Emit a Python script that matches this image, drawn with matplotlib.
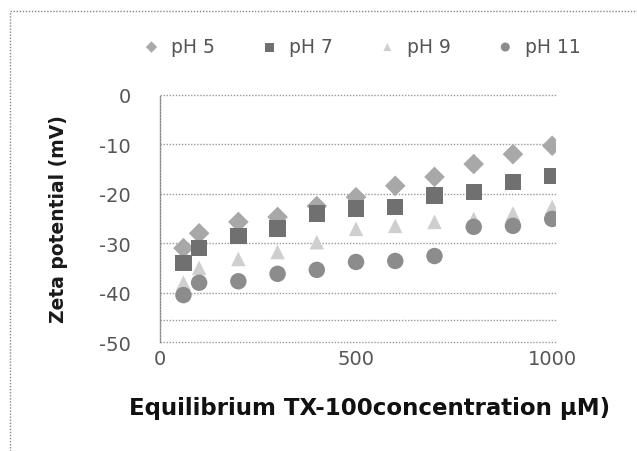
import matplotlib
matplotlib.use('Agg')
import matplotlib.pyplot as plt
from matplotlib.lines import Line2D

conc = [60, 100, 200, 300, 400, 500, 600, 700, 800, 900, 1000]
ph5 = [-31, -28, -25.7, -24.7, -22.5, -20.7, -18.4, -16.6, -14.0, -12.0, -10.3]
ph7 = [-34, -31, -28.5, -27.0, -24.0, -23.0, -22.7, -20.4, -19.6, -17.6, -16.4]
ph9 = [-38, -35, -33.2, -31.8, -29.8, -27.1, -26.5, -25.7, -25.1, -24.0, -22.7]
ph11 = [-40.5, -38, -37.7, -36.2, -35.4, -33.8, -33.6, -32.6, -26.7, -26.5, -25.1]
labels = ['pH 5', 'pH 7', 'pH 9', 'pH 11']
y_ticks = [0, -10, -20, -30, -40, -50]
x_ticks = [0, 500, 1000]

fig = plt.figure(figsize=(6.37, 4.52), dpi=100)
ax = fig.add_axes([0.251, 0.241, 0.622, 0.547])

styles = [('D', '#a8a8a8', 110), ('s', '#707070', 140), ('^', '#cfcfcf', 110), ('o', '#8c8c8c', 140)]
for ys, lab, (m, c, s) in zip([ph5, ph7, ph9, ph11], labels, styles):
    ax.scatter(conc, ys, marker=m, color=c, s=s, label=lab, edgecolors='none', zorder=3)

ax.set_xlim(0, 1010)
ax.set_ylim(-50, 0)
ax.set_yticks(y_ticks)
ax.set_yticklabels([str(v) for v in y_ticks])
ax.set_xticks(x_ticks)
ax.tick_params(length=0, labelsize=14, colors='#555555')
ax.tick_params(axis='y', pad=21)
ax.tick_params(axis='x', pad=5)
dots = (0, (1, 1.2))
for v in y_ticks + [-45.5]:
    ax.axhline(v, color='#999999', linestyle=dots, linewidth=1.0, zorder=1, clip_on=False)
for side in ['top', 'right', 'bottom']:
    ax.spines[side].set_visible(False)
ax.spines['left'].set_linestyle(dots)
ax.spines['left'].set_linewidth(1.0)
ax.spines['left'].set_color('#888888')

ax.set_xlabel('Equilibrium TX-100concentration \u00b5M)', fontsize=16.5, fontweight='bold',
              family='DejaVu Sans', color='#111111')
ax.xaxis.set_label_coords(0.53, -0.22)
ax.set_ylabel('Zeta potential (mV)', fontsize=13.5, fontweight='bold', family='DejaVu Sans',
              color='#1a1a1a', labelpad=22)

leg = fig.legend(loc='center', bbox_to_anchor=(0.56, 0.895), ncol=4, frameon=False,
                 fontsize=13.5, handletextpad=0.05, columnspacing=1.9, markerscale=0.55)
for t in leg.get_texts():
    t.set_color('#555555')

border = dict(color='#888888', linestyle=dots, linewidth=1.0, transform=fig.transFigure)
fig.add_artist(Line2D([0.016, 1.0], [0.973, 0.973], **border))
fig.add_artist(Line2D([0.016, 0.016], [0.0, 0.973], **border))

fig.savefig('out.png', dpi=100)
